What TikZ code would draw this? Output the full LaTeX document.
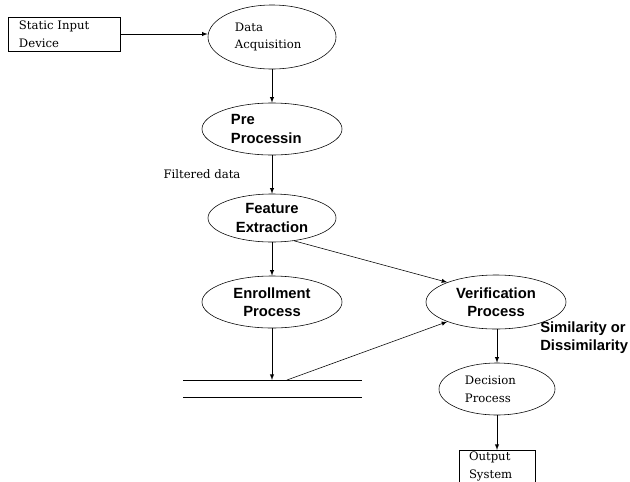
\documentclass[tikz,border=0pt]{standalone}
\usepackage{fontspec}
\setmainfont{DejaVu Serif}
\setsansfont{Liberation Sans}
\usetikzlibrary{shapes.geometric}
\tikzset{
	proc/.style={ellipse, draw, inner sep=0pt, align=center, font=\sffamily\bfseries\fontsize{10.5}{13}\selectfont},
	plainproc/.style={ellipse, draw, inner sep=0pt, align=left, font=\fontsize{8.3}{12.5}\selectfont},
	iobox/.style={rectangle, draw, inner sep=0pt, align=left, font=\fontsize{8.3}{12.5}\selectfont},
}
\begin{document}
\begin{tikzpicture}[x=0.025cm,y=-0.025cm]
	\useasboundingbox (0,0) rectangle (630,481);
	\clip (0,0) rectangle (630,481);
	
	\node[iobox, minimum width=2.8cm, minimum height=0.85cm, text width=2.25cm] (input) at (64,34) {Static Input\\Device};
	\node[plainproc, minimum width=3.2cm, minimum height=1.6cm, text width=1.85cm] (acq) at (272,37) {Data\\Acquisition};
	\node[proc, minimum width=3.5cm, minimum height=1.3cm, text width=2.05cm, align=left] (pre) at (272,129) {Pre\\Processin};
	\node[proc, minimum width=3.2cm, minimum height=1.2cm] (feat) at (272,218) {Feature\\Extraction};
	\node[proc, minimum width=3.5cm, minimum height=1.3cm] (enr) at (272,302) {Enrollment\\Process};
	\node[proc, minimum width=3.5cm, minimum height=1.35cm] (ver) at (496,302) {Verification\\Process};
	\node[plainproc, minimum width=2.9cm, minimum height=1.3cm, text width=1.6cm] (dec) at (497,389) {Decision\\Process};
	\node[iobox, anchor=north, minimum width=1.9cm, minimum height=0.8cm, text width=1.4cm] (out) at (497,450) {Output\\System};
	
	\node[font=\fontsize{8.3}{10}\selectfont] (filt) at (202,174) {Filtered data};
	\node[anchor=west, align=left, inner sep=0pt, font=\sffamily\bfseries\fontsize{10.5}{13}\selectfont] (sim) at (540,338) {Similarity or\\Dissimilarity};
	
	\coordinate (s1) at (183,380);
	\coordinate (s2) at (362,380);
	\coordinate (s3) at (183,397);
	\coordinate (s4) at (362,397);
	\coordinate (st) at (272,380);
	\coordinate (sv) at (287,380);
	\draw (s1) -- (s2);
	\draw (s3) -- (s4);
	
	\draw[-latex] (input) -- (input -| acq.west);
	\draw[-latex] (acq) -- (pre);
	\draw[-latex] (pre) -- (feat);
	\draw[-latex] (feat) -- (enr);
	\draw[-latex] (enr) -- (st);
	\draw[-latex] (feat.-46) -- (ver.158);
	\draw[-latex] (sv) -- (ver.202);
	\draw[-latex] (ver.south -| dec.north) -- (dec);
	\draw[-latex] (dec) -- (out);
\end{tikzpicture}
\end{document}
